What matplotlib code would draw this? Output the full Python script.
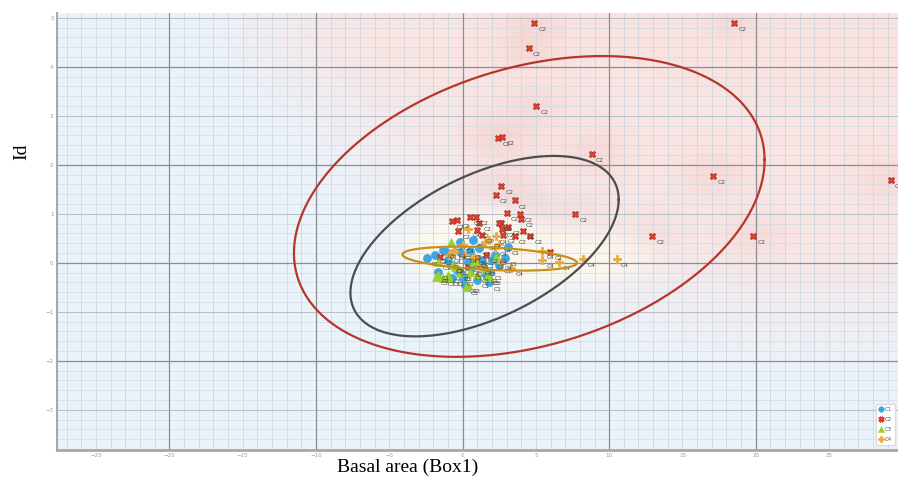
import numpy as np
import matplotlib.pyplot as plt
from matplotlib.lines import Line2D

# points: x = basal area (Box1), y = Id
c1_x = [-2.45, -1.9, -1.35, -0.2, 0.7, 3.07, 2.9, -0.35, 0.0, 1.9, 2.5, 1.6, 0.35, -0.8, -0.15,
        1.15, 2.2, 0.15, -1.7, -0.7, 1.35, -1.2, 0.95, -0.2, 0.6, 1.0, -1.0, 2.0, 0.5, 1.8]
c1_y = [0.1, 0.16, 0.27, 0.43, 0.47, 0.33, 0.1, -0.14, -0.31, -0.18, -0.04, -0.24, 0.02, -0.04, 0.22,
        0.31, 0.16, -0.45, -0.18, -0.31, 0.06, 0.24, 0.06, -0.2, -0.1, -0.35, 0.05, 0.05, 0.25, -0.4]

c2_x = [4.9, 18.5, 4.5, 5.0, 2.4, 2.7, 8.8, 17.1, 29.2, 2.65, 2.25, 3.55, 7.65, 3.0, 3.9, 4.0,
        2.6, 2.7, 3.1, 4.1, 3.55, 4.6, 12.9, 19.8, 5.95, 0.48, 0.9, -0.7, -0.4, 1.1, -0.3, 1.3,
        -1.55, 0.35, 1.6, 1.0, 0.9, 2.5, 2.75]
c2_y = [4.9, 4.9, 4.39, 3.2, 2.55, 2.57, 2.22, 1.78, 1.69, 1.57, 1.39, 1.28, 1.0, 1.02, 1.0, 0.9,
        0.82, 0.69, 0.74, 0.65, 0.55, 0.55, 0.55, 0.55, 0.22, 0.94, 0.94, 0.86, 0.88, 0.82, 0.65, 0.57,
        0.12, -0.08, 0.16, 0.67, 0.1, 0.82, 0.57]

c3_x = [-0.8, -1.65, -1.7, -1.35, -1.0, 0.35, 1.5, 1.7, 0.7, 2.25, -0.5, 1.0, -0.15, 0.25, -1.8,
        1.85, -0.95, 0.5, 1.0, -0.7]
c3_y = [0.43, 0.02, -0.24, -0.31, -0.24, -0.45, -0.1, -0.29, 0.02, 0.12, -0.08, -0.24, -0.2, -0.49, -0.28,
        -0.28, -0.3, -0.18, 0.0, -0.04]

c4_x = [0.35, 2.25, -0.55, 0.0, 2.2, 1.5, 3.3, 2.6, 0.8, 1.2, 0.2, -0.9, 5.45, 5.4, 6.55, 8.2,
        10.5, 1.8, 2.5, -0.6]
c4_y = [0.69, 0.55, 0.27, 0.37, 0.31, 0.43, -0.1, 0.02, 0.12, -0.08, 0.16, 0.16, 0.24, 0.06, 0.02, 0.08,
        0.08, 0.47, 0.39, 0.22]

# confidence ellipses: centre and covariance (1-sigma contour)
ell_red_c = [4.55, 1.15]
ell_red_cov = [[257.6, 15.25], [15.25, 9.42]]
ell_gray_c = [1.5, 0.34]
ell_gray_cov = [[83.7, 8.69], [8.69, 3.39]]
ell_gold_c = [1.85, 0.085]
ell_gold_cov = [[35.4, -0.506], [-0.506, 0.060]]

xmin, xmax = -27.66, 29.7
ymin, ymax = -3.82, 5.1

fig = plt.figure(figsize=(8.98, 4.78), dpi=100)
ax = fig.add_axes([0.0635, 0.0586, 0.9365, 0.9144])

# background class map (C2 region pink, rest light blue)
gx = np.linspace(xmin, xmax, 700)
gy = np.linspace(ymin, ymax, 420)
X, Y = np.meshgrid(gx, gy)
d = np.hypot(X - 24.0, (Y - 12.45) * 3.35)
wp = 1.0 / (1.0 + np.exp((d - 44.5) / 2.2))

blob2 = np.zeros_like(X)
for px, py in zip(c2_x, c2_y):
    blob2 += np.exp(-0.5 * ((X - px) / 1.3) ** 2 - 0.5 * ((Y - py) / 0.28) ** 2)
wd = 0.55 * (1 - np.exp(-0.7 * blob2)) * wp

blob4 = np.zeros_like(X)
for px, py in zip(c4_x, c4_y):
    blob4 += np.exp(-0.5 * ((X - px) / 1.8) ** 2 - 0.5 * ((Y - py) / 0.3) ** 2)
ww = 0.8 * (1 - np.exp(-1.0 * blob4))

blue = np.array([0.918, 0.953, 0.984])
pink = np.array([0.976, 0.894, 0.886])
dark = np.array([0.945, 0.76, 0.745])
white = np.array([1.0, 0.985, 0.94])
img = blue * (1 - wp[..., None]) + pink * wp[..., None]
img = img * (1 - wd[..., None]) + dark * wd[..., None]
img = img * (1 - ww[..., None]) + white * ww[..., None]
ax.imshow(img, extent=[xmin, xmax, ymin, ymax], origin='lower', aspect='auto',
          interpolation='bilinear', zorder=0)

# grid
for v in np.arange(-27, 30, 1):
    ax.axvline(v, color='#cdd5dd', lw=0.55, zorder=1)
for v in np.arange(-3.8, 5.2, 0.2):
    ax.axhline(v, color='#d3dae2', lw=0.5, zorder=1)
for v in np.arange(-3, 6, 1):
    ax.axhline(v, color='#b6bec6', lw=0.7, zorder=1)
for v in np.arange(-20, 30, 10):
    ax.axvline(v, color='#888e93', lw=0.9, zorder=1)
for v in np.arange(-2, 6, 2):
    ax.axhline(v, color='#888e93', lw=0.9, zorder=1)

# points
groups = [
    ('C1', c1_x, c1_y, 'o', '#3ba7e5', '#3ba7e5', 5.8),
    ('C2', c2_x, c2_y, 'X', '#dc4430', '#a8281c', 4.6),
    ('C3', c3_x, c3_y, '^', '#9ad12c', '#9ad12c', 5.8),
    ('C4', c4_x, c4_y, 'P', '#e7a940', '#e7a940', 5.8),
]
handles = []
for name, xs, ys, mk, fc, ec, ms in groups:
    ax.plot(xs, ys, ls='none', marker=mk, ms=ms, mfc=fc, mec=ec, mew=0.5, zorder=3)
    for px, py in zip(xs, ys):
        ax.annotate(name, (px, py), xytext=(3.2, -5), textcoords='offset points',
                    fontsize=4.3, color='#4a4a4a', ha='left', va='center', zorder=3.5)
    handles.append(Line2D([], [], ls='none', marker=mk, ms=4, mfc=fc, mec=ec, mew=0.4, label=name))

# ellipses
t = np.linspace(0, 2 * np.pi, 400)
for c, cov, col in [(ell_red_c, ell_red_cov, '#b5362b'),
                    (ell_gray_c, ell_gray_cov, '#4d4d4d'),
                    (ell_gold_c, ell_gold_cov, '#c8901a')]:
    L = np.linalg.cholesky(np.array(cov))
    pts = np.array(c)[:, None] + L @ np.vstack([np.cos(t), np.sin(t)])
    ax.plot(pts[0], pts[1], color=col, lw=1.6, zorder=4)

ax.set_xlim(xmin, xmax)
ax.set_ylim(ymin, ymax)
ax.set_xticks(np.arange(-25, 30, 5))
ax.set_yticks(np.arange(-3, 6, 1))
ax.tick_params(length=0, labelsize=4, labelcolor='#9a9a9a', pad=2.5)
for s in ['top', 'right']:
    ax.spines[s].set_visible(False)
ax.spines['left'].set_color('#a8a8a8')
ax.spines['left'].set_linewidth(1.5)
ax.spines['bottom'].set_color('#a8a8a8')
ax.spines['bottom'].set_linewidth(2)

leg = ax.legend(handles=handles, loc='lower right', bbox_to_anchor=(1.0, 0.006), fontsize=4,
                frameon=True, borderpad=0.5, handletextpad=0.2, handlelength=1.0, labelspacing=0.9,
                fancybox=False, edgecolor='#dddddd', framealpha=1.0)
leg.set_zorder(6)
for txt in leg.get_texts():
    txt.set_color('#555555')

fig.text(0.0245, 0.682, 'Id', rotation=90, ha='center', va='center',
         family='Liberation Serif', fontsize=14)
fig.text(0.454, 0.023, 'Basal area (Box1)', ha='center', va='center',
         family='Liberation Serif', fontsize=14)

fig.savefig('out.png', dpi=100)
